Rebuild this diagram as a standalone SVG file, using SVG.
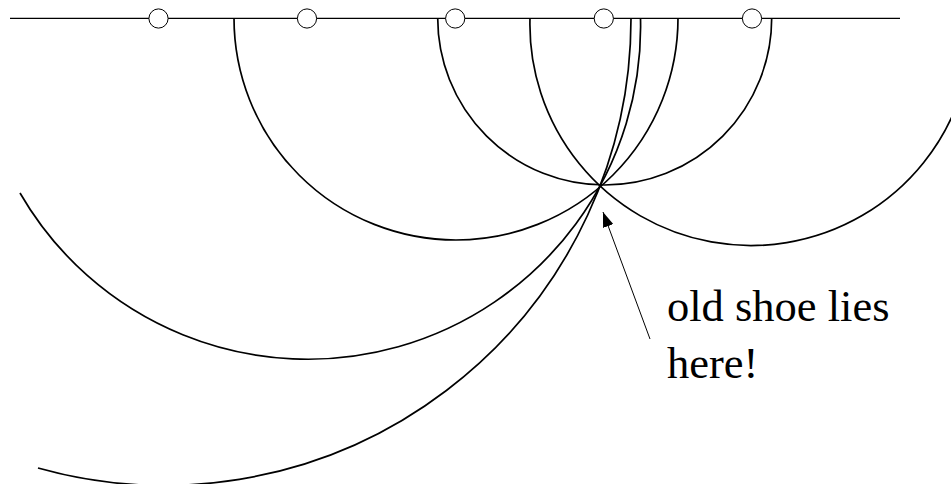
<svg xmlns="http://www.w3.org/2000/svg" width="951" height="484" viewBox="0 0 951 484">
<style>
.arc{fill:none;stroke:#000;stroke-width:1.7}
.base{fill:none;stroke:#000;stroke-width:1.3}
.pt{fill:#fff;stroke:#000;stroke-width:1}
.lbl{font-family:"Liberation Serif","Times New Roman",serif;font-size:44.5px;fill:#000}
</style>
<defs>
<marker id="ah" viewBox="0 0 15 11" refX="15" refY="5.5" markerWidth="15" markerHeight="11" markerUnits="userSpaceOnUse" orient="auto">
<path d="M0,0 L15,5.5 L0,11 Z" fill="#000"/>
</marker>
</defs>
<g id="circles">
<path class="arc" d="M 234 18 A 222 222 0 1 0 678 18"/>
<path class="arc" d="M 437.7 18 A 167 167 0 1 0 771.7 18"/>
<path class="arc" d="M 530 18 A 221.1 221.1 0 0 0 960 96.6"/>
<path class="arc" d="M 20 193 A 332.6 332.6 0 0 0 640.5 18"/>
<path class="arc" d="M 38 468 A 466.7 466.7 0 0 0 631 18"/>
</g>
<g id="baseline">
<line class="base" x1="10" y1="18.3" x2="900" y2="18.3"/>
</g>
<g id="points">
<circle class="pt" cx="158.5" cy="18.5" r="9.6"/>
<circle class="pt" cx="307" cy="18.5" r="9.6"/>
<circle class="pt" cx="455.2" cy="18.5" r="9.6"/>
<circle class="pt" cx="603.8" cy="18.5" r="9.6"/>
<circle class="pt" cx="752" cy="18.5" r="9.6"/>
</g>
<g id="connectors">
<line x1="650" y1="339" x2="603" y2="212" stroke="#000" stroke-width="1" marker-end="url(#ah)"/>
</g>
<g id="label">
<text class="lbl" x="667" y="321">old shoe lies</text>
<text class="lbl" x="667" y="378">here!</text>
</g>
</svg>
